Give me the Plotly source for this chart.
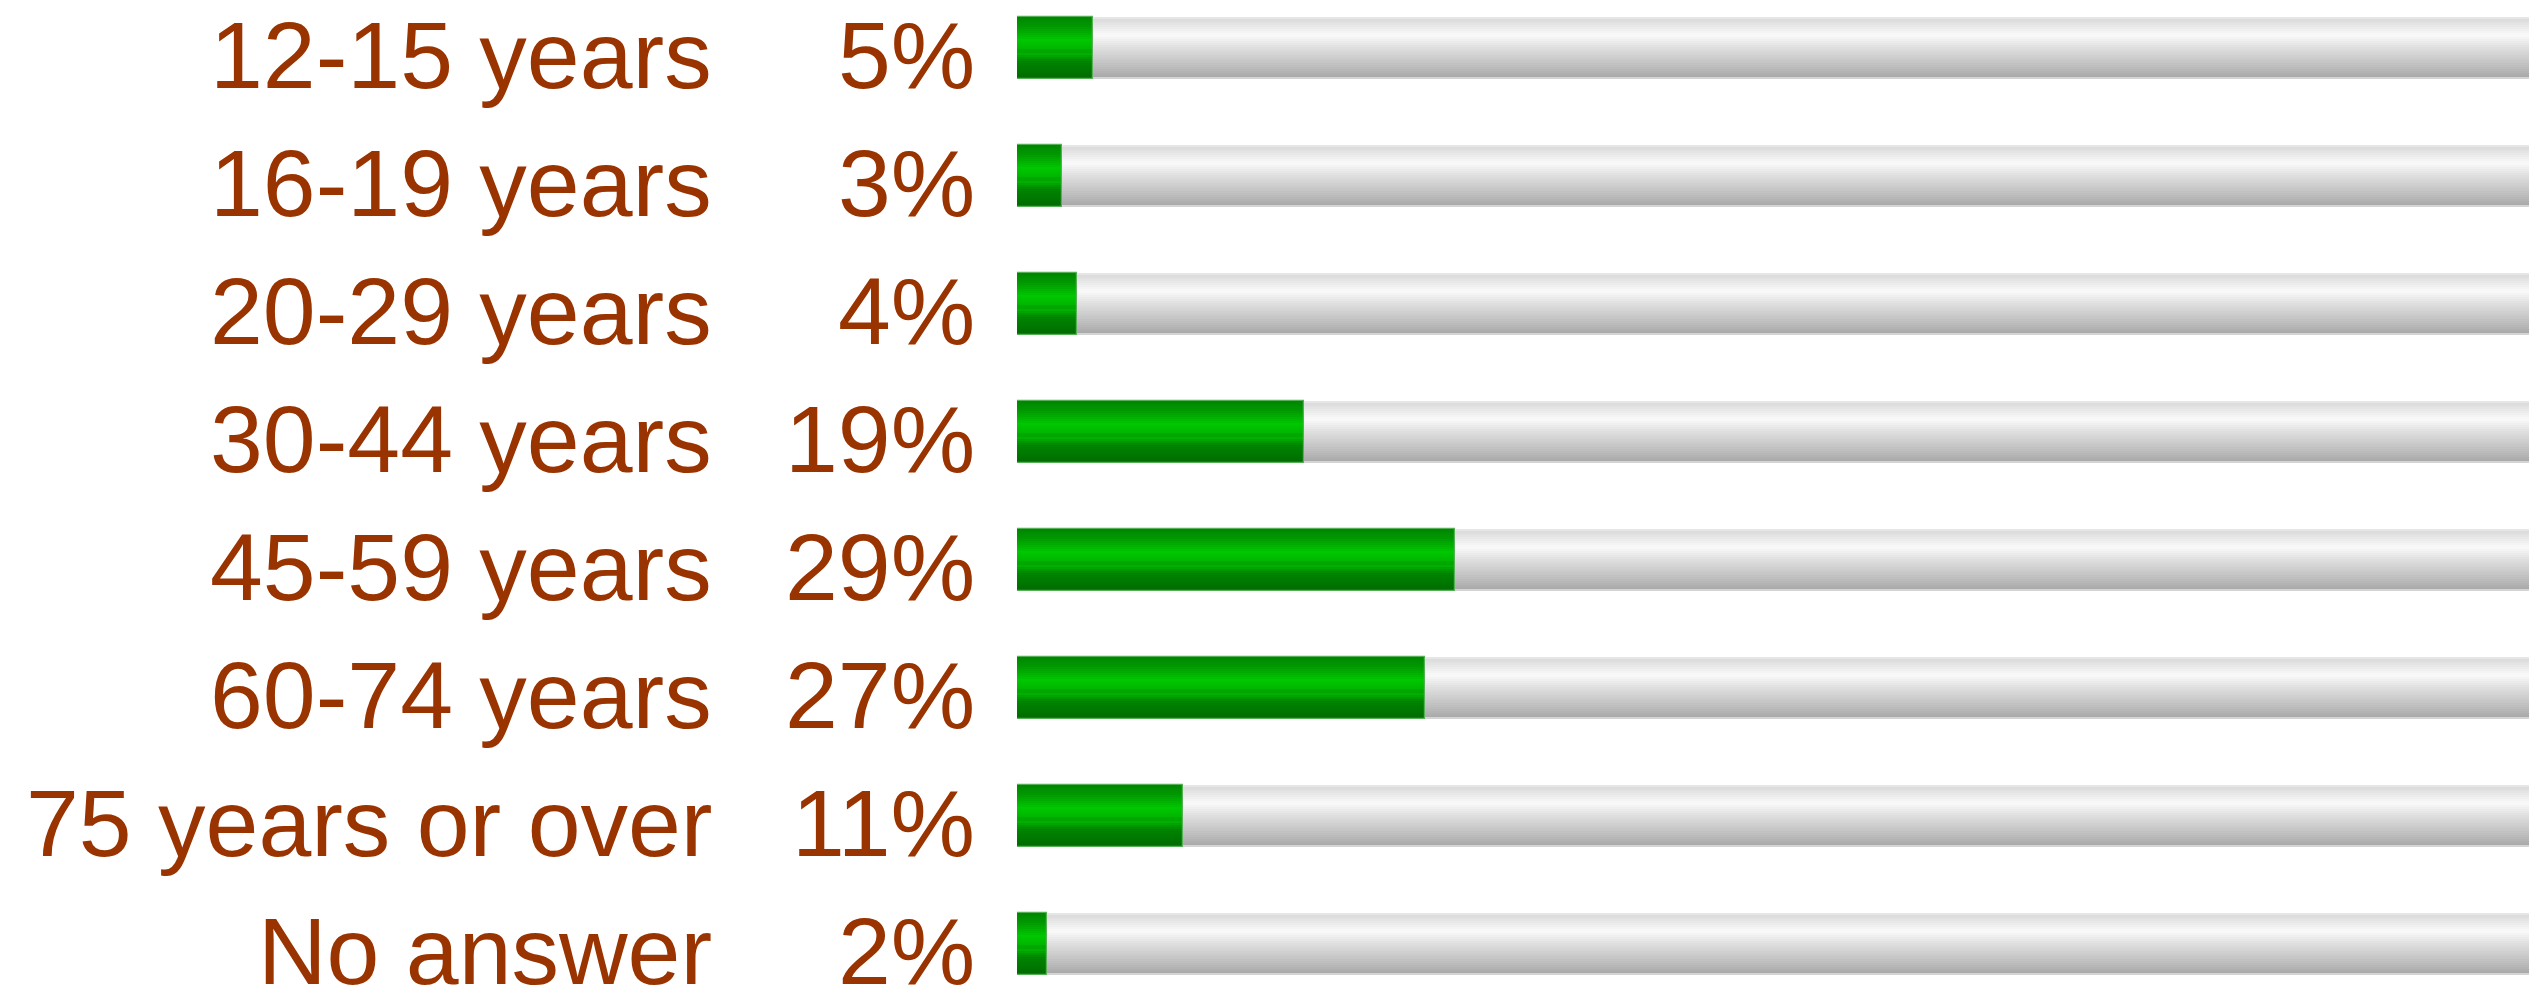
import plotly.graph_objects as go

# Age groups and their shares (%)
categories = ["12-15 years", "16-19 years", "20-29 years", "30-44 years",
              "45-59 years", "60-74 years", "75 years or over", "No answer"]
shares = [5, 3, 4, 19, 29, 27, 11, 2]
track_max = 100

TEXT_COLOR = "#993300"
FONT = "Liberation Sans, Arial, sans-serif"

W, H = 2537, 990
LEFT, RIGHT = 1017, 8
ROW_PX = 128
FIRST_CENTER_PX = 48
BAR_PX = 62

# vertical colour profiles (position from top 0..1 -> rgb)
green_stops = [(0.00, (0, 135, 0)), (0.15, (0, 152, 0)), (0.37, (0, 200, 0)),
               (0.50, (0, 182, 0)), (0.55, (0, 160, 0)), (0.60, (0, 176, 0)),
               (0.66, (0, 150, 0)), (0.72, (0, 132, 0)), (1.00, (0, 105, 0))]
gray_stops = [(0.00, (214, 214, 214)), (0.29, (250, 250, 250)), (0.50, (222, 222, 222)),
              (0.80, (190, 190, 190)), (1.00, (165, 165, 165))]


def interp(stops, t):
    for (t0, c0), (t1, c1) in zip(stops[:-1], stops[1:]):
        if t0 <= t <= t1:
            f = (t - t0) / (t1 - t0) if t1 > t0 else 0
            return "rgb(%d,%d,%d)" % tuple(round(a + (b - a) * f) for a, b in zip(c0, c1))
    return "rgb(%d,%d,%d)" % stops[-1][1]


n = len(categories)
ys = list(range(n))
unit = ROW_PX  # px per category unit
bar_h = BAR_PX / unit
span = H / unit
y_top = -FIRST_CENTER_PX / unit

N = 31
fig = go.Figure()


def add_gradient(values, stops):
    for i in range(N):
        t = (i + 0.5) / N
        fig.add_trace(go.Bar(
            x=values, y=ys, orientation="h",
            width=bar_h / N * 1.15,
            offset=-bar_h / 2 + i * bar_h / N,
            marker=dict(color=interp(stops, t), line=dict(width=0)),
            hoverinfo="skip", showlegend=False,
        ))


def add_rim(values, pos, color):
    fig.add_trace(go.Bar(x=values, y=ys, orientation="h", width=2 / unit,
                         offset=pos, marker=dict(color=color, line=dict(width=0)),
                         hoverinfo="skip", showlegend=False))


add_gradient([track_max] * n, gray_stops)
# light rims along the top and bottom of the track
add_rim([track_max] * n, -bar_h / 2, "#e6e6e6")
add_rim([track_max] * n, bar_h / 2 - 2 / unit, "#d4d4d4")
add_gradient(shares, green_stops)
# soft outline around the green bars
fig.add_trace(go.Bar(x=shares, y=ys, orientation="h", width=bar_h, offset=-bar_h / 2,
                     marker=dict(color="rgba(0,0,0,0)", line=dict(width=1.2, color="#55b055")),
                     hoverinfo="skip", showlegend=False))

for y, label, v in zip(ys, categories, shares):
    fig.add_annotation(x=0, y=y, xref="x", yref="y", text=label, showarrow=False,
                       xanchor="right", yanchor="middle", xshift=-303, yshift=-7,
                       font=dict(family=FONT, size=95, color=TEXT_COLOR))
    fig.add_annotation(x=0, y=y, xref="x", yref="y", text=f"{v}%", showarrow=False,
                       xanchor="right", yanchor="middle", xshift=-40, yshift=-7,
                       font=dict(family=FONT, size=95, color=TEXT_COLOR))

fig.update_layout(
    width=W, height=H,
    margin=dict(l=LEFT, r=RIGHT, t=0, b=0),
    paper_bgcolor="white", plot_bgcolor="white",
    barmode="overlay", bargap=0,
    xaxis=dict(range=[0, track_max], visible=False, fixedrange=True),
    yaxis=dict(range=[y_top + span, y_top], visible=False, fixedrange=True),
)

fig.write_html("out.html")
